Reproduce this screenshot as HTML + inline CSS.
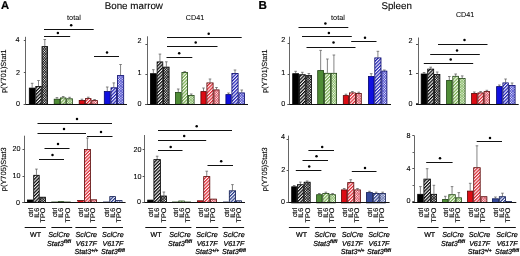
<!DOCTYPE html>
<html><head><meta charset="utf-8"><style>
html,body{margin:0;padding:0;background:#fff;width:520px;height:256px;overflow:hidden}
svg{display:block;text-rendering:geometricPrecision;filter:blur(.45px)}
text{stroke:#000;stroke-width:.22px}
</style></head><body><svg width="520" height="256" viewBox="0 0 520 256" font-family='"Liberation Sans", sans-serif' stroke-linecap="butt"><g fill="#000" stroke="none"><defs><pattern id="hk" patternUnits="userSpaceOnUse" width="2.35" height="3" patternTransform="rotate(45)"><rect width="2.35" height="3" fill="#fff"/><rect width="1.25" height="3" fill="#000"/></pattern><pattern id="ck" patternUnits="userSpaceOnUse" width="1.8" height="1.8" patternTransform="rotate(45)"><rect width="1.8" height="1.8" fill="#fff"/><rect width="1.8" height="0.68" fill="#000"/><rect width="0.68" height="1.8" fill="#000"/></pattern><pattern id="hg" patternUnits="userSpaceOnUse" width="2.35" height="3" patternTransform="rotate(45)"><rect width="2.35" height="3" fill="#fff"/><rect width="1.25" height="3" fill="#74ac4a"/></pattern><pattern id="cg" patternUnits="userSpaceOnUse" width="1.8" height="1.8" patternTransform="rotate(45)"><rect width="1.8" height="1.8" fill="#fff"/><rect width="1.8" height="0.68" fill="#7cb458"/><rect width="0.68" height="1.8" fill="#7cb458"/></pattern><pattern id="hr" patternUnits="userSpaceOnUse" width="2.35" height="3" patternTransform="rotate(45)"><rect width="2.35" height="3" fill="#fff"/><rect width="1.25" height="3" fill="#dc2430"/></pattern><pattern id="cr" patternUnits="userSpaceOnUse" width="1.8" height="1.8" patternTransform="rotate(45)"><rect width="1.8" height="1.8" fill="#fff"/><rect width="1.8" height="0.68" fill="#d84858"/><rect width="0.68" height="1.8" fill="#d84858"/></pattern><pattern id="hb" patternUnits="userSpaceOnUse" width="2.35" height="3" patternTransform="rotate(45)"><rect width="2.35" height="3" fill="#fff"/><rect width="1.25" height="3" fill="#1c1cb4"/></pattern><pattern id="cb" patternUnits="userSpaceOnUse" width="1.8" height="1.8" patternTransform="rotate(45)"><rect width="1.8" height="1.8" fill="#fff"/><rect width="1.8" height="0.68" fill="#3a3ac8"/><rect width="0.68" height="1.8" fill="#3a3ac8"/></pattern><pattern id="hn" patternUnits="userSpaceOnUse" width="2.35" height="3" patternTransform="rotate(45)"><rect width="2.35" height="3" fill="#fff"/><rect width="1.25" height="3" fill="#24388a"/></pattern><pattern id="cn" patternUnits="userSpaceOnUse" width="1.8" height="1.8" patternTransform="rotate(45)"><rect width="1.8" height="1.8" fill="#fff"/><rect width="1.8" height="0.68" fill="#5868aa"/><rect width="0.68" height="1.8" fill="#5868aa"/></pattern></defs><line x1="32.15" y1="87.7" x2="32.15" y2="83.3" stroke="#666" stroke-width="0.8"/><line x1="30.85" y1="83.3" x2="33.45" y2="83.3" stroke="#666" stroke-width="0.8"/><rect x="29.3" y="88.1" width="5.7" height="16.1" fill="#000" stroke="#000" stroke-width="0.8"/><line x1="38.5" y1="86.0" x2="38.5" y2="80.5" stroke="#666" stroke-width="0.8"/><line x1="37.2" y1="80.5" x2="39.8" y2="80.5" stroke="#666" stroke-width="0.8"/><rect x="35.8" y="86.4" width="5.4" height="17.8" fill="url(#hk)" stroke="#000" stroke-width="0.8"/><line x1="44.8" y1="46.2" x2="44.8" y2="39.5" stroke="#666" stroke-width="0.8"/><line x1="43.5" y1="39.5" x2="46.1" y2="39.5" stroke="#666" stroke-width="0.8"/><rect x="42.0" y="46.6" width="5.6" height="57.6" fill="url(#ck)" stroke="#000" stroke-width="0.8"/><line x1="56.95" y1="98.8" x2="56.95" y2="97.6" stroke="#666" stroke-width="0.8"/><line x1="55.65" y1="97.6" x2="58.25" y2="97.6" stroke="#666" stroke-width="0.8"/><rect x="54.2" y="99.2" width="5.5" height="5.0" fill="#4f8c36" stroke="#1e4212" stroke-width="0.8"/><line x1="63.2" y1="97.5" x2="63.2" y2="96.5" stroke="#666" stroke-width="0.8"/><line x1="61.9" y1="96.5" x2="64.5" y2="96.5" stroke="#666" stroke-width="0.8"/><rect x="60.5" y="97.9" width="5.4" height="6.3" fill="url(#hg)" stroke="#1e4212" stroke-width="0.8"/><line x1="69.55" y1="98.4" x2="69.55" y2="97.3" stroke="#666" stroke-width="0.8"/><line x1="68.25" y1="97.3" x2="70.85" y2="97.3" stroke="#666" stroke-width="0.8"/><rect x="66.7" y="98.8" width="5.7" height="5.4" fill="url(#cg)" stroke="#1e4212" stroke-width="0.8"/><line x1="81.95" y1="100.1" x2="81.95" y2="99.2" stroke="#666" stroke-width="0.8"/><line x1="80.65" y1="99.2" x2="83.25" y2="99.2" stroke="#666" stroke-width="0.8"/><rect x="79.2" y="100.5" width="5.5" height="3.7" fill="#dc0c14" stroke="#580404" stroke-width="0.8"/><line x1="88.25" y1="98.2" x2="88.25" y2="97.2" stroke="#666" stroke-width="0.8"/><line x1="86.95" y1="97.2" x2="89.55" y2="97.2" stroke="#666" stroke-width="0.8"/><rect x="85.5" y="98.6" width="5.5" height="5.6" fill="url(#hr)" stroke="#580404" stroke-width="0.8"/><line x1="94.6" y1="100.2" x2="94.6" y2="99.5" stroke="#666" stroke-width="0.8"/><line x1="93.3" y1="99.5" x2="95.9" y2="99.5" stroke="#666" stroke-width="0.8"/><rect x="91.8" y="100.6" width="5.6" height="3.6" fill="url(#cr)" stroke="#580404" stroke-width="0.8"/><line x1="107.25" y1="91.1" x2="107.25" y2="87.0" stroke="#666" stroke-width="0.8"/><line x1="105.95" y1="87.0" x2="108.55" y2="87.0" stroke="#666" stroke-width="0.8"/><rect x="104.3" y="91.5" width="5.9" height="12.7" fill="#1010e0" stroke="#06066a" stroke-width="0.8"/><line x1="113.8" y1="87.4" x2="113.8" y2="82.9" stroke="#666" stroke-width="0.8"/><line x1="112.5" y1="82.9" x2="115.1" y2="82.9" stroke="#666" stroke-width="0.8"/><rect x="111.0" y="87.8" width="5.6" height="16.4" fill="url(#hb)" stroke="#06066a" stroke-width="0.8"/><line x1="120.55" y1="75.2" x2="120.55" y2="64.5" stroke="#666" stroke-width="0.8"/><line x1="119.25" y1="64.5" x2="121.85" y2="64.5" stroke="#666" stroke-width="0.8"/><rect x="117.4" y="75.6" width="6.3" height="28.6" fill="url(#cb)" stroke="#06066a" stroke-width="0.8"/><line x1="25.5" y1="36.8" x2="25.5" y2="104.2" stroke="#666" stroke-width="1"/><line x1="23.8" y1="104.5" x2="127" y2="104.5" stroke="#111" stroke-width="1"/><line x1="23.8" y1="104.5" x2="25.8" y2="104.5" stroke="#555" stroke-width="1"/><text x="20" y="105.9" font-size="7.2" text-anchor="end" style="stroke-width:0.1px">0</text><line x1="23.8" y1="72.5" x2="25.8" y2="72.5" stroke="#555" stroke-width="1"/><text x="20" y="75.0" font-size="7.2" text-anchor="end" style="stroke-width:0.1px">2</text><line x1="23.8" y1="40.5" x2="25.8" y2="40.5" stroke="#555" stroke-width="1"/><text x="19.6" y="42.1" font-size="7.2" text-anchor="end" style="stroke-width:0.1px">4</text><line x1="44" y1="29.5" x2="93.7" y2="29.5" stroke="#111" stroke-width="1"/><circle cx="71.2" cy="25.2" r="1.25" fill="#000"/><line x1="44" y1="36.5" x2="70.2" y2="36.5" stroke="#111" stroke-width="1"/><circle cx="57.9" cy="32.9" r="1.25" fill="#000"/><line x1="94" y1="56.5" x2="119" y2="56.5" stroke="#111" stroke-width="1"/><circle cx="107" cy="52.6" r="1.25" fill="#000"/><line x1="153.35" y1="73.3" x2="153.35" y2="69.7" stroke="#666" stroke-width="0.8"/><line x1="152.05" y1="69.7" x2="154.65" y2="69.7" stroke="#666" stroke-width="0.8"/><rect x="150.4" y="73.7" width="5.9" height="30.6" fill="#000" stroke="#000" stroke-width="0.8"/><line x1="159.95" y1="61.5" x2="159.95" y2="54.1" stroke="#666" stroke-width="0.8"/><line x1="158.65" y1="54.1" x2="161.25" y2="54.1" stroke="#666" stroke-width="0.8"/><rect x="157.1" y="61.9" width="5.7" height="42.4" fill="url(#hk)" stroke="#000" stroke-width="0.8"/><line x1="166.35" y1="66.7" x2="166.35" y2="61.8" stroke="#666" stroke-width="0.8"/><line x1="165.05" y1="61.8" x2="167.65" y2="61.8" stroke="#666" stroke-width="0.8"/><rect x="163.6" y="67.1" width="5.5" height="37.2" fill="url(#ck)" stroke="#000" stroke-width="0.8"/><line x1="178.25" y1="92" x2="178.25" y2="89" stroke="#666" stroke-width="0.8"/><line x1="176.95" y1="89" x2="179.55" y2="89" stroke="#666" stroke-width="0.8"/><rect x="175.4" y="92.4" width="5.7" height="11.9" fill="#4f8c36" stroke="#1e4212" stroke-width="0.8"/><line x1="184.75" y1="72" x2="184.75" y2="71.6" stroke="#666" stroke-width="0.8"/><line x1="183.45" y1="71.6" x2="186.05" y2="71.6" stroke="#666" stroke-width="0.8"/><rect x="181.9" y="72.4" width="5.7" height="31.9" fill="url(#hg)" stroke="#1e4212" stroke-width="0.8"/><line x1="191.25" y1="95" x2="191.25" y2="94" stroke="#666" stroke-width="0.8"/><line x1="189.95" y1="94" x2="192.55" y2="94" stroke="#666" stroke-width="0.8"/><rect x="188.4" y="95.4" width="5.7" height="8.9" fill="url(#cg)" stroke="#1e4212" stroke-width="0.8"/><line x1="203.5" y1="91.2" x2="203.5" y2="88" stroke="#666" stroke-width="0.8"/><line x1="202.2" y1="88" x2="204.8" y2="88" stroke="#666" stroke-width="0.8"/><rect x="200.9" y="91.6" width="5.2" height="12.7" fill="#dc0c14" stroke="#580404" stroke-width="0.8"/><line x1="210.0" y1="82.5" x2="210.0" y2="79" stroke="#666" stroke-width="0.8"/><line x1="208.7" y1="79" x2="211.3" y2="79" stroke="#666" stroke-width="0.8"/><rect x="206.9" y="82.9" width="6.2" height="21.4" fill="url(#hr)" stroke="#580404" stroke-width="0.8"/><line x1="216.5" y1="89.5" x2="216.5" y2="87.5" stroke="#666" stroke-width="0.8"/><line x1="215.2" y1="87.5" x2="217.8" y2="87.5" stroke="#666" stroke-width="0.8"/><rect x="213.9" y="89.9" width="5.2" height="14.4" fill="url(#cr)" stroke="#580404" stroke-width="0.8"/><line x1="228.5" y1="94.2" x2="228.5" y2="93" stroke="#666" stroke-width="0.8"/><line x1="227.2" y1="93" x2="229.8" y2="93" stroke="#666" stroke-width="0.8"/><rect x="225.9" y="94.6" width="5.2" height="9.7" fill="#1010e0" stroke="#06066a" stroke-width="0.8"/><line x1="235.0" y1="73" x2="235.0" y2="70" stroke="#666" stroke-width="0.8"/><line x1="233.7" y1="70" x2="236.3" y2="70" stroke="#666" stroke-width="0.8"/><rect x="231.9" y="73.4" width="6.2" height="30.9" fill="url(#hb)" stroke="#06066a" stroke-width="0.8"/><line x1="241.75" y1="92.5" x2="241.75" y2="90" stroke="#666" stroke-width="0.8"/><line x1="240.45" y1="90" x2="243.05" y2="90" stroke="#666" stroke-width="0.8"/><rect x="238.9" y="92.9" width="5.7" height="11.4" fill="url(#cb)" stroke="#06066a" stroke-width="0.8"/><line x1="147.5" y1="36.3" x2="147.5" y2="104.3" stroke="#666" stroke-width="1"/><line x1="145.4" y1="104.5" x2="248" y2="104.5" stroke="#111" stroke-width="1"/><line x1="145.4" y1="104.5" x2="147.4" y2="104.5" stroke="#555" stroke-width="1"/><text x="141.5" y="106.1" font-size="7.2" text-anchor="end" style="stroke-width:0.1px">0</text><line x1="145.4" y1="74.5" x2="147.4" y2="74.5" stroke="#555" stroke-width="1"/><text x="141.5" y="74.6" font-size="7.2" text-anchor="end" style="stroke-width:0.1px">1</text><line x1="145.4" y1="44.5" x2="147.4" y2="44.5" stroke="#555" stroke-width="1"/><text x="141.5" y="42.7" font-size="7.2" text-anchor="end" style="stroke-width:0.1px">2</text><line x1="167" y1="37.5" x2="241.7" y2="37.5" stroke="#111" stroke-width="1"/><circle cx="208.7" cy="33.7" r="1.25" fill="#000"/><line x1="167" y1="46.5" x2="217.5" y2="46.5" stroke="#111" stroke-width="1"/><circle cx="195.7" cy="42.5" r="1.25" fill="#000"/><line x1="166.5" y1="57.5" x2="192.3" y2="57.5" stroke="#111" stroke-width="1"/><circle cx="179.2" cy="53.3" r="1.25" fill="#000"/><line x1="295.65" y1="73.3" x2="295.65" y2="71.3" stroke="#666" stroke-width="0.8"/><line x1="294.35" y1="71.3" x2="296.95" y2="71.3" stroke="#666" stroke-width="0.8"/><rect x="292.7" y="73.7" width="5.9" height="30.7" fill="#000" stroke="#000" stroke-width="0.8"/><line x1="302.35" y1="74.3" x2="302.35" y2="72.3" stroke="#666" stroke-width="0.8"/><line x1="301.05" y1="72.3" x2="303.65" y2="72.3" stroke="#666" stroke-width="0.8"/><rect x="299.4" y="74.7" width="5.9" height="29.7" fill="url(#hk)" stroke="#000" stroke-width="0.8"/><line x1="308.85" y1="75.2" x2="308.85" y2="73.5" stroke="#666" stroke-width="0.8"/><line x1="307.55" y1="73.5" x2="310.15" y2="73.5" stroke="#666" stroke-width="0.8"/><rect x="306.1" y="75.6" width="5.5" height="28.8" fill="url(#ck)" stroke="#000" stroke-width="0.8"/><line x1="320.65" y1="70.2" x2="320.65" y2="50.4" stroke="#666" stroke-width="0.8"/><line x1="319.35" y1="50.4" x2="321.95" y2="50.4" stroke="#666" stroke-width="0.8"/><rect x="317.7" y="70.6" width="5.9" height="33.8" fill="#4f8c36" stroke="#1e4212" stroke-width="0.8"/><line x1="327.4" y1="72.9" x2="327.4" y2="59.0" stroke="#666" stroke-width="0.8"/><line x1="326.1" y1="59.0" x2="328.7" y2="59.0" stroke="#666" stroke-width="0.8"/><rect x="324.4" y="73.3" width="6.0" height="31.1" fill="url(#hg)" stroke="#1e4212" stroke-width="0.8"/><line x1="333.9" y1="72.9" x2="333.9" y2="55.0" stroke="#666" stroke-width="0.8"/><line x1="332.6" y1="55.0" x2="335.2" y2="55.0" stroke="#666" stroke-width="0.8"/><rect x="331.2" y="73.3" width="5.4" height="31.1" fill="url(#cg)" stroke="#1e4212" stroke-width="0.8"/><line x1="345.95" y1="95.2" x2="345.95" y2="94.2" stroke="#666" stroke-width="0.8"/><line x1="344.65" y1="94.2" x2="347.25" y2="94.2" stroke="#666" stroke-width="0.8"/><rect x="343.3" y="95.6" width="5.3" height="8.8" fill="#dc0c14" stroke="#580404" stroke-width="0.8"/><line x1="352.4" y1="92.5" x2="352.4" y2="91.5" stroke="#666" stroke-width="0.8"/><line x1="351.1" y1="91.5" x2="353.7" y2="91.5" stroke="#666" stroke-width="0.8"/><rect x="349.4" y="92.9" width="6.0" height="11.5" fill="url(#hr)" stroke="#580404" stroke-width="0.8"/><line x1="358.75" y1="93.1" x2="358.75" y2="92.2" stroke="#666" stroke-width="0.8"/><line x1="357.45" y1="92.2" x2="360.05" y2="92.2" stroke="#666" stroke-width="0.8"/><rect x="356.2" y="93.5" width="5.1" height="10.9" fill="url(#cr)" stroke="#580404" stroke-width="0.8"/><line x1="371.2" y1="76.1" x2="371.2" y2="73.7" stroke="#666" stroke-width="0.8"/><line x1="369.9" y1="73.7" x2="372.5" y2="73.7" stroke="#666" stroke-width="0.8"/><rect x="368.4" y="76.5" width="5.6" height="27.9" fill="#1010e0" stroke="#06066a" stroke-width="0.8"/><line x1="377.9" y1="57.5" x2="377.9" y2="51.3" stroke="#666" stroke-width="0.8"/><line x1="376.6" y1="51.3" x2="379.2" y2="51.3" stroke="#666" stroke-width="0.8"/><rect x="374.8" y="57.9" width="6.2" height="46.5" fill="url(#hb)" stroke="#06066a" stroke-width="0.8"/><line x1="384.35" y1="70.7" x2="384.35" y2="70" stroke="#666" stroke-width="0.8"/><line x1="383.05" y1="70" x2="385.65" y2="70" stroke="#666" stroke-width="0.8"/><rect x="381.8" y="71.1" width="5.1" height="33.3" fill="url(#cb)" stroke="#06066a" stroke-width="0.8"/><line x1="289.5" y1="36.7" x2="289.5" y2="104.4" stroke="#666" stroke-width="1"/><line x1="287.6" y1="104.5" x2="391" y2="104.5" stroke="#111" stroke-width="1"/><line x1="287.6" y1="104.5" x2="289.6" y2="104.5" stroke="#555" stroke-width="1"/><text x="285.2" y="105.5" font-size="7.2" text-anchor="end" style="stroke-width:0.1px">0</text><line x1="287.6" y1="74.5" x2="289.6" y2="74.5" stroke="#555" stroke-width="1"/><text x="285.2" y="74.7" font-size="7.2" text-anchor="end" style="stroke-width:0.1px">1</text><line x1="287.6" y1="43.5" x2="289.6" y2="43.5" stroke="#555" stroke-width="1"/><text x="285.2" y="41.6" font-size="7.2" text-anchor="end" style="stroke-width:0.1px">2</text><line x1="298.5" y1="27.5" x2="348.3" y2="27.5" stroke="#111" stroke-width="1"/><circle cx="325.4" cy="23.4" r="1.25" fill="#000"/><line x1="302" y1="36.5" x2="351.8" y2="36.5" stroke="#111" stroke-width="1"/><circle cx="328.9" cy="33.1" r="1.25" fill="#000"/><line x1="306.5" y1="47.5" x2="355.5" y2="47.5" stroke="#111" stroke-width="1"/><circle cx="333.5" cy="42.5" r="1.25" fill="#000"/><line x1="351.2" y1="41.5" x2="376.5" y2="41.5" stroke="#111" stroke-width="1"/><circle cx="365" cy="37.7" r="1.25" fill="#000"/><line x1="424.05" y1="73.6" x2="424.05" y2="72.5" stroke="#666" stroke-width="0.8"/><line x1="422.75" y1="72.5" x2="425.35" y2="72.5" stroke="#666" stroke-width="0.8"/><rect x="421.2" y="74.0" width="5.7" height="30.2" fill="#000" stroke="#000" stroke-width="0.8"/><line x1="430.7" y1="68.7" x2="430.7" y2="67.2" stroke="#666" stroke-width="0.8"/><line x1="429.4" y1="67.2" x2="432.0" y2="67.2" stroke="#666" stroke-width="0.8"/><rect x="427.7" y="69.1" width="6.0" height="35.1" fill="url(#hk)" stroke="#000" stroke-width="0.8"/><line x1="437.2" y1="74.0" x2="437.2" y2="72.0" stroke="#666" stroke-width="0.8"/><line x1="435.9" y1="72.0" x2="438.5" y2="72.0" stroke="#666" stroke-width="0.8"/><rect x="434.5" y="74.4" width="5.4" height="29.8" fill="url(#ck)" stroke="#000" stroke-width="0.8"/><line x1="449.3" y1="80.0" x2="449.3" y2="76.5" stroke="#666" stroke-width="0.8"/><line x1="448.0" y1="76.5" x2="450.6" y2="76.5" stroke="#666" stroke-width="0.8"/><rect x="446.6" y="80.4" width="5.4" height="23.8" fill="#4f8c36" stroke="#1e4212" stroke-width="0.8"/><line x1="455.65" y1="75.9" x2="455.65" y2="74.0" stroke="#666" stroke-width="0.8"/><line x1="454.35" y1="74.0" x2="456.95" y2="74.0" stroke="#666" stroke-width="0.8"/><rect x="452.8" y="76.3" width="5.7" height="27.9" fill="url(#hg)" stroke="#1e4212" stroke-width="0.8"/><line x1="462.2" y1="78.0" x2="462.2" y2="75.9" stroke="#666" stroke-width="0.8"/><line x1="460.9" y1="75.9" x2="463.5" y2="75.9" stroke="#666" stroke-width="0.8"/><rect x="459.3" y="78.4" width="5.8" height="25.8" fill="url(#cg)" stroke="#1e4212" stroke-width="0.8"/><line x1="474.35" y1="93" x2="474.35" y2="92" stroke="#666" stroke-width="0.8"/><line x1="473.05" y1="92" x2="475.65" y2="92" stroke="#666" stroke-width="0.8"/><rect x="471.6" y="93.4" width="5.5" height="10.8" fill="#dc0c14" stroke="#580404" stroke-width="0.8"/><line x1="480.6" y1="92.5" x2="480.6" y2="91.5" stroke="#666" stroke-width="0.8"/><line x1="479.3" y1="91.5" x2="481.9" y2="91.5" stroke="#666" stroke-width="0.8"/><rect x="477.9" y="92.9" width="5.4" height="11.3" fill="url(#hr)" stroke="#580404" stroke-width="0.8"/><line x1="486.85" y1="91.2" x2="486.85" y2="90.3" stroke="#666" stroke-width="0.8"/><line x1="485.55" y1="90.3" x2="488.15" y2="90.3" stroke="#666" stroke-width="0.8"/><rect x="484.1" y="91.6" width="5.5" height="12.6" fill="url(#cr)" stroke="#580404" stroke-width="0.8"/><line x1="499.35" y1="86.2" x2="499.35" y2="85" stroke="#666" stroke-width="0.8"/><line x1="498.05" y1="85" x2="500.65" y2="85" stroke="#666" stroke-width="0.8"/><rect x="496.6" y="86.6" width="5.5" height="17.6" fill="#1010e0" stroke="#06066a" stroke-width="0.8"/><line x1="505.6" y1="82.5" x2="505.6" y2="79" stroke="#666" stroke-width="0.8"/><line x1="504.3" y1="79" x2="506.9" y2="79" stroke="#666" stroke-width="0.8"/><rect x="502.9" y="82.9" width="5.4" height="21.3" fill="url(#hb)" stroke="#06066a" stroke-width="0.8"/><line x1="512.1" y1="85" x2="512.1" y2="83" stroke="#666" stroke-width="0.8"/><line x1="510.8" y1="83" x2="513.4" y2="83" stroke="#666" stroke-width="0.8"/><rect x="509.1" y="85.4" width="6.0" height="18.8" fill="url(#cb)" stroke="#06066a" stroke-width="0.8"/><line x1="418.5" y1="37.5" x2="418.5" y2="104.2" stroke="#666" stroke-width="1"/><line x1="416" y1="104.5" x2="518.7" y2="104.5" stroke="#111" stroke-width="1"/><line x1="416" y1="103.5" x2="418" y2="103.5" stroke="#555" stroke-width="1"/><text x="412.4" y="105.6" font-size="7.2" text-anchor="end" style="stroke-width:0.1px">0</text><line x1="416" y1="73.5" x2="418" y2="73.5" stroke="#555" stroke-width="1"/><text x="412.4" y="75.0" font-size="7.2" text-anchor="end" style="stroke-width:0.1px">1</text><line x1="416" y1="44.5" x2="418" y2="44.5" stroke="#555" stroke-width="1"/><text x="412.4" y="42.7" font-size="7.2" text-anchor="end" style="stroke-width:0.1px">2</text><line x1="438" y1="44.5" x2="487.5" y2="44.5" stroke="#111" stroke-width="1"/><circle cx="464.5" cy="40" r="1.25" fill="#000"/><line x1="430.2" y1="54.5" x2="479.8" y2="54.5" stroke="#111" stroke-width="1"/><circle cx="457" cy="50.5" r="1.25" fill="#000"/><line x1="423.8" y1="63.5" x2="473.2" y2="63.5" stroke="#111" stroke-width="1"/><circle cx="450.7" cy="59.4" r="1.25" fill="#000"/><rect x="27.4" y="200.0" width="5.5" height="2.4" fill="#000" stroke="#000" stroke-width="0.8"/><line x1="36.45" y1="174.9" x2="36.45" y2="169.1" stroke="#666" stroke-width="0.8"/><line x1="35.15" y1="169.1" x2="37.75" y2="169.1" stroke="#666" stroke-width="0.8"/><rect x="33.7" y="175.3" width="5.5" height="27.1" fill="url(#hk)" stroke="#000" stroke-width="0.8"/><rect x="40.0" y="197.2" width="5.5" height="5.2" fill="url(#ck)" stroke="#000" stroke-width="0.8"/><rect x="51.7" y="202.0" width="5.7" height="0.4" fill="#4f8c36" stroke="#1e4212" stroke-width="0.8"/><rect x="58.2" y="201.6" width="5.6" height="0.8" fill="url(#hg)" stroke="#1e4212" stroke-width="0.8"/><rect x="64.6" y="202.0" width="5.7" height="0.4" fill="url(#cg)" stroke="#1e4212" stroke-width="0.8"/><rect x="77.5" y="200.6" width="6.1" height="1.8" fill="#dc0c14" stroke="#580404" stroke-width="0.8"/><line x1="87.4" y1="149" x2="87.4" y2="138" stroke="#666" stroke-width="0.8"/><line x1="86.1" y1="138" x2="88.7" y2="138" stroke="#666" stroke-width="0.8"/><rect x="84.4" y="149.4" width="6.0" height="53.0" fill="url(#hr)" stroke="#580404" stroke-width="0.8"/><rect x="91.2" y="199.8" width="5.4" height="2.6" fill="url(#cr)" stroke="#580404" stroke-width="0.8"/><rect x="103.4" y="202.0" width="5.6" height="0.4" fill="#34489a" stroke="#0e1a50" stroke-width="0.8"/><rect x="109.8" y="196.6" width="5.7" height="5.8" fill="url(#hn)" stroke="#0e1a50" stroke-width="0.8"/><rect x="116.3" y="200.6" width="5.7" height="1.8" fill="url(#cn)" stroke="#0e1a50" stroke-width="0.8"/><line x1="24.5" y1="135.7" x2="24.5" y2="202.4" stroke="#666" stroke-width="1"/><line x1="22.5" y1="202.5" x2="125.6" y2="202.5" stroke="#111" stroke-width="1"/><line x1="22.5" y1="202.5" x2="24.5" y2="202.5" stroke="#555" stroke-width="1"/><text x="20" y="204.5" font-size="7.2" text-anchor="end" style="stroke-width:0.1px">0</text><line x1="22.5" y1="176.5" x2="24.5" y2="176.5" stroke="#555" stroke-width="1"/><text x="20.5" y="178.1" font-size="7.2" text-anchor="end" style="stroke-width:0.1px">10</text><line x1="22.5" y1="149.5" x2="24.5" y2="149.5" stroke="#555" stroke-width="1"/><text x="20.5" y="151.2" font-size="7.2" text-anchor="end" style="stroke-width:0.1px">20</text><line x1="37.5" y1="123.5" x2="112" y2="123.5" stroke="#111" stroke-width="1"/><circle cx="77" cy="119" r="1.25" fill="#000"/><line x1="37.5" y1="133.5" x2="86" y2="133.5" stroke="#111" stroke-width="1"/><circle cx="64" cy="129" r="1.25" fill="#000"/><line x1="87" y1="136.5" x2="112.5" y2="136.5" stroke="#111" stroke-width="1"/><circle cx="101" cy="132" r="1.25" fill="#000"/><line x1="44.5" y1="148.5" x2="69.5" y2="148.5" stroke="#111" stroke-width="1"/><circle cx="58" cy="144" r="1.25" fill="#000"/><line x1="39" y1="159.5" x2="64" y2="159.5" stroke="#111" stroke-width="1"/><circle cx="52.5" cy="155" r="1.25" fill="#000"/><rect x="147.7" y="200.1" width="5.4" height="2.3" fill="#000" stroke="#000" stroke-width="0.8"/><line x1="157.15" y1="159.2" x2="157.15" y2="156.2" stroke="#666" stroke-width="0.8"/><line x1="155.85" y1="156.2" x2="158.45" y2="156.2" stroke="#666" stroke-width="0.8"/><rect x="153.9" y="159.6" width="6.5" height="42.8" fill="url(#hk)" stroke="#000" stroke-width="0.8"/><line x1="163.9" y1="195.6" x2="163.9" y2="192" stroke="#666" stroke-width="0.8"/><line x1="162.6" y1="192" x2="165.2" y2="192" stroke="#666" stroke-width="0.8"/><rect x="161.2" y="196.0" width="5.4" height="6.4" fill="url(#ck)" stroke="#000" stroke-width="0.8"/><rect x="172.4" y="202.0" width="5.6" height="0.4" fill="#4f8c36" stroke="#1e4212" stroke-width="0.8"/><rect x="178.8" y="201.0" width="5.5" height="1.4" fill="url(#hg)" stroke="#1e4212" stroke-width="0.8"/><rect x="185.1" y="202.0" width="5.5" height="0.4" fill="url(#cg)" stroke="#1e4212" stroke-width="0.8"/><rect x="197.5" y="200.8" width="5.4" height="1.6" fill="#dc0c14" stroke="#580404" stroke-width="0.8"/><line x1="206.75" y1="176.2" x2="206.75" y2="171.2" stroke="#666" stroke-width="0.8"/><line x1="205.45" y1="171.2" x2="208.05" y2="171.2" stroke="#666" stroke-width="0.8"/><rect x="203.7" y="176.6" width="6.1" height="25.8" fill="url(#hr)" stroke="#580404" stroke-width="0.8"/><rect x="210.6" y="199.1" width="5.8" height="3.3" fill="url(#cr)" stroke="#580404" stroke-width="0.8"/><rect x="223.5" y="202.0" width="5.0" height="0.4" fill="#34489a" stroke="#0e1a50" stroke-width="0.8"/><line x1="232.45" y1="190.4" x2="232.45" y2="184.6" stroke="#666" stroke-width="0.8"/><line x1="231.15" y1="184.6" x2="233.75" y2="184.6" stroke="#666" stroke-width="0.8"/><rect x="229.3" y="190.8" width="6.3" height="11.6" fill="url(#hn)" stroke="#0e1a50" stroke-width="0.8"/><rect x="236.4" y="200.8" width="5.0" height="1.6" fill="url(#cn)" stroke="#0e1a50" stroke-width="0.8"/><line x1="144.5" y1="135" x2="144.5" y2="202.4" stroke="#666" stroke-width="1"/><line x1="142.6" y1="202.5" x2="245" y2="202.5" stroke="#111" stroke-width="1"/><line x1="142.6" y1="202.5" x2="144.6" y2="202.5" stroke="#555" stroke-width="1"/><text x="141" y="204.4" font-size="7.2" text-anchor="end" style="stroke-width:0.1px">0</text><line x1="142.6" y1="176.5" x2="144.6" y2="176.5" stroke="#555" stroke-width="1"/><text x="141.5" y="178.6" font-size="7.2" text-anchor="end" style="stroke-width:0.1px">10</text><line x1="142.6" y1="149.5" x2="144.6" y2="149.5" stroke="#555" stroke-width="1"/><text x="141.5" y="151.8" font-size="7.2" text-anchor="end" style="stroke-width:0.1px">20</text><line x1="158" y1="130.5" x2="232" y2="130.5" stroke="#111" stroke-width="1"/><circle cx="196.7" cy="126.2" r="1.25" fill="#000"/><line x1="158" y1="140.5" x2="206.2" y2="140.5" stroke="#111" stroke-width="1"/><circle cx="184.2" cy="136" r="1.25" fill="#000"/><line x1="158" y1="150.5" x2="182.5" y2="150.5" stroke="#111" stroke-width="1"/><circle cx="170.7" cy="147" r="1.25" fill="#000"/><line x1="207.5" y1="165.5" x2="233" y2="165.5" stroke="#111" stroke-width="1"/><circle cx="221.2" cy="161.2" r="1.25" fill="#000"/><line x1="294.2" y1="186.4" x2="294.2" y2="185.5" stroke="#666" stroke-width="0.8"/><line x1="292.9" y1="185.5" x2="295.5" y2="185.5" stroke="#666" stroke-width="0.8"/><rect x="291.7" y="186.8" width="5.0" height="16.1" fill="#000" stroke="#000" stroke-width="0.8"/><line x1="300.4" y1="184.3" x2="300.4" y2="182.1" stroke="#666" stroke-width="0.8"/><line x1="299.1" y1="182.1" x2="301.7" y2="182.1" stroke="#666" stroke-width="0.8"/><rect x="297.5" y="184.7" width="5.8" height="18.2" fill="url(#hk)" stroke="#000" stroke-width="0.8"/><line x1="307.15" y1="181.8" x2="307.15" y2="181.0" stroke="#666" stroke-width="0.8"/><line x1="305.85" y1="181.0" x2="308.45" y2="181.0" stroke="#666" stroke-width="0.8"/><rect x="304.1" y="182.2" width="6.1" height="20.7" fill="url(#ck)" stroke="#000" stroke-width="0.8"/><line x1="319.3" y1="194.3" x2="319.3" y2="193.5" stroke="#666" stroke-width="0.8"/><line x1="318.0" y1="193.5" x2="320.6" y2="193.5" stroke="#666" stroke-width="0.8"/><rect x="316.6" y="194.7" width="5.4" height="8.2" fill="#4f8c36" stroke="#1e4212" stroke-width="0.8"/><line x1="325.85" y1="193" x2="325.85" y2="192.2" stroke="#666" stroke-width="0.8"/><line x1="324.55" y1="192.2" x2="327.15" y2="192.2" stroke="#666" stroke-width="0.8"/><rect x="322.8" y="193.4" width="6.1" height="9.5" fill="url(#hg)" stroke="#1e4212" stroke-width="0.8"/><line x1="332.6" y1="194.3" x2="332.6" y2="193.5" stroke="#666" stroke-width="0.8"/><line x1="331.3" y1="193.5" x2="333.9" y2="193.5" stroke="#666" stroke-width="0.8"/><rect x="329.7" y="194.7" width="5.8" height="8.2" fill="url(#cg)" stroke="#1e4212" stroke-width="0.8"/><line x1="344.2" y1="189.5" x2="344.2" y2="188.5" stroke="#666" stroke-width="0.8"/><line x1="342.9" y1="188.5" x2="345.5" y2="188.5" stroke="#666" stroke-width="0.8"/><rect x="341.5" y="189.9" width="5.4" height="13.0" fill="#dc0c14" stroke="#580404" stroke-width="0.8"/><line x1="350.75" y1="182.2" x2="350.75" y2="179.7" stroke="#666" stroke-width="0.8"/><line x1="349.45" y1="179.7" x2="352.05" y2="179.7" stroke="#666" stroke-width="0.8"/><rect x="347.7" y="182.6" width="6.1" height="20.3" fill="url(#hr)" stroke="#580404" stroke-width="0.8"/><line x1="357.5" y1="189.5" x2="357.5" y2="188.5" stroke="#666" stroke-width="0.8"/><line x1="356.2" y1="188.5" x2="358.8" y2="188.5" stroke="#666" stroke-width="0.8"/><rect x="354.6" y="189.9" width="5.8" height="13.0" fill="url(#cr)" stroke="#580404" stroke-width="0.8"/><line x1="369.45" y1="192.2" x2="369.45" y2="191.3" stroke="#666" stroke-width="0.8"/><line x1="368.15" y1="191.3" x2="370.75" y2="191.3" stroke="#666" stroke-width="0.8"/><rect x="366.4" y="192.6" width="6.1" height="10.3" fill="#34489a" stroke="#0e1a50" stroke-width="0.8"/><line x1="376.2" y1="193" x2="376.2" y2="192.2" stroke="#666" stroke-width="0.8"/><line x1="374.9" y1="192.2" x2="377.5" y2="192.2" stroke="#666" stroke-width="0.8"/><rect x="373.3" y="193.4" width="5.8" height="9.5" fill="url(#hn)" stroke="#0e1a50" stroke-width="0.8"/><line x1="382.65" y1="193" x2="382.65" y2="192.2" stroke="#666" stroke-width="0.8"/><line x1="381.35" y1="192.2" x2="383.95" y2="192.2" stroke="#666" stroke-width="0.8"/><rect x="379.9" y="193.4" width="5.5" height="9.5" fill="url(#cn)" stroke="#0e1a50" stroke-width="0.8"/><line x1="288.5" y1="135.6" x2="288.5" y2="202.9" stroke="#666" stroke-width="1"/><line x1="286.6" y1="202.5" x2="389.6" y2="202.5" stroke="#111" stroke-width="1"/><line x1="286.6" y1="202.5" x2="288.6" y2="202.5" stroke="#555" stroke-width="1"/><text x="285" y="204.4" font-size="7.2" text-anchor="end" style="stroke-width:0.1px">0</text><line x1="286.6" y1="170.5" x2="288.6" y2="170.5" stroke="#555" stroke-width="1"/><text x="285.3" y="171.9" font-size="7.2" text-anchor="end" style="stroke-width:0.1px">2</text><line x1="286.6" y1="139.5" x2="288.6" y2="139.5" stroke="#555" stroke-width="1"/><text x="285" y="138.7" font-size="7.2" text-anchor="end" style="stroke-width:0.1px">4</text><line x1="308.4" y1="150.5" x2="334" y2="150.5" stroke="#111" stroke-width="1"/><circle cx="322.2" cy="146.9" r="1.25" fill="#000"/><line x1="302.5" y1="160.5" x2="328" y2="160.5" stroke="#111" stroke-width="1"/><circle cx="316.5" cy="156.3" r="1.25" fill="#000"/><line x1="295.8" y1="170.5" x2="321.4" y2="170.5" stroke="#111" stroke-width="1"/><circle cx="309.2" cy="166.5" r="1.25" fill="#000"/><line x1="351.8" y1="171.5" x2="376.5" y2="171.5" stroke="#111" stroke-width="1"/><circle cx="365" cy="167.9" r="1.25" fill="#000"/><line x1="420.4" y1="193.9" x2="420.4" y2="186.6" stroke="#666" stroke-width="0.8"/><line x1="419.1" y1="186.6" x2="421.7" y2="186.6" stroke="#666" stroke-width="0.8"/><rect x="417.7" y="194.3" width="5.4" height="8.3" fill="#000" stroke="#000" stroke-width="0.8"/><line x1="427.15" y1="178.7" x2="427.15" y2="168.7" stroke="#666" stroke-width="0.8"/><line x1="425.85" y1="168.7" x2="428.45" y2="168.7" stroke="#666" stroke-width="0.8"/><rect x="423.9" y="179.1" width="6.5" height="23.5" fill="url(#hk)" stroke="#000" stroke-width="0.8"/><line x1="433.9" y1="193.9" x2="433.9" y2="185.3" stroke="#666" stroke-width="0.8"/><line x1="432.6" y1="185.3" x2="435.2" y2="185.3" stroke="#666" stroke-width="0.8"/><rect x="431.2" y="194.3" width="5.4" height="8.3" fill="url(#ck)" stroke="#000" stroke-width="0.8"/><line x1="445.3" y1="199" x2="445.3" y2="196.3" stroke="#666" stroke-width="0.8"/><line x1="444.0" y1="196.3" x2="446.6" y2="196.3" stroke="#666" stroke-width="0.8"/><rect x="442.6" y="199.4" width="5.4" height="3.2" fill="#4f8c36" stroke="#1e4212" stroke-width="0.8"/><line x1="452.05" y1="194.3" x2="452.05" y2="186.6" stroke="#666" stroke-width="0.8"/><line x1="450.75" y1="186.6" x2="453.35" y2="186.6" stroke="#666" stroke-width="0.8"/><rect x="448.8" y="194.7" width="6.5" height="7.9" fill="url(#hg)" stroke="#1e4212" stroke-width="0.8"/><line x1="458.8" y1="197.4" x2="458.8" y2="192.6" stroke="#666" stroke-width="0.8"/><line x1="457.5" y1="192.6" x2="460.1" y2="192.6" stroke="#666" stroke-width="0.8"/><rect x="456.1" y="197.8" width="5.4" height="4.8" fill="url(#cg)" stroke="#1e4212" stroke-width="0.8"/><line x1="470.2" y1="190.7" x2="470.2" y2="183.3" stroke="#666" stroke-width="0.8"/><line x1="468.9" y1="183.3" x2="471.5" y2="183.3" stroke="#666" stroke-width="0.8"/><rect x="467.5" y="191.1" width="5.4" height="11.5" fill="#dc0c14" stroke="#580404" stroke-width="0.8"/><line x1="476.95" y1="167.3" x2="476.95" y2="145.8" stroke="#666" stroke-width="0.8"/><line x1="475.65" y1="145.8" x2="478.25" y2="145.8" stroke="#666" stroke-width="0.8"/><rect x="473.7" y="167.7" width="6.5" height="34.9" fill="url(#hr)" stroke="#580404" stroke-width="0.8"/><rect x="481.0" y="196.7" width="5.9" height="5.9" fill="url(#cr)" stroke="#580404" stroke-width="0.8"/><line x1="495.45" y1="198.4" x2="495.45" y2="197" stroke="#666" stroke-width="0.8"/><line x1="494.15" y1="197" x2="496.75" y2="197" stroke="#666" stroke-width="0.8"/><rect x="492.4" y="198.8" width="6.1" height="3.8" fill="#34489a" stroke="#0e1a50" stroke-width="0.8"/><line x1="502.45" y1="196.3" x2="502.45" y2="193.2" stroke="#666" stroke-width="0.8"/><line x1="501.15" y1="193.2" x2="503.75" y2="193.2" stroke="#666" stroke-width="0.8"/><rect x="499.3" y="196.7" width="6.3" height="5.9" fill="url(#hn)" stroke="#0e1a50" stroke-width="0.8"/><rect x="506.4" y="201.5" width="5.0" height="1.1" fill="url(#cn)" stroke="#0e1a50" stroke-width="0.8"/><line x1="414.5" y1="135.5" x2="414.5" y2="202.6" stroke="#666" stroke-width="1"/><line x1="412.3" y1="202.5" x2="516.3" y2="202.5" stroke="#111" stroke-width="1"/><line x1="412.5" y1="152.5" x2="414.3" y2="152.5" stroke="#666" stroke-width="1"/><line x1="412.5" y1="185.5" x2="414.3" y2="185.5" stroke="#666" stroke-width="1"/><line x1="412.3" y1="201.5" x2="414.3" y2="201.5" stroke="#555" stroke-width="1"/><text x="410.6" y="203.4" font-size="7.2" text-anchor="end" style="stroke-width:0.1px">0</text><line x1="412.3" y1="168.5" x2="414.3" y2="168.5" stroke="#555" stroke-width="1"/><text x="410.6" y="171.2" font-size="7.2" text-anchor="end" style="stroke-width:0.1px">4</text><line x1="412.3" y1="135.5" x2="414.3" y2="135.5" stroke="#555" stroke-width="1"/><text x="410.6" y="138.2" font-size="7.2" text-anchor="end" style="stroke-width:0.1px">8</text><line x1="476.7" y1="141.5" x2="502" y2="141.5" stroke="#111" stroke-width="1"/><circle cx="490" cy="138" r="1.25" fill="#000"/><line x1="426.2" y1="162.5" x2="452.6" y2="162.5" stroke="#111" stroke-width="1"/><circle cx="440" cy="158.2" r="1.25" fill="#000"/><text x="1" y="9.1" font-size="11.2" font-weight="bold">A</text><text x="258.5" y="9.3" font-size="11.6" font-weight="bold">B</text><text x="104.7" y="9.3" font-size="9.8" style="stroke-width:0.1px">Bone marrow</text><text x="381.4" y="9.1" font-size="9.8" style="stroke-width:0.1px">Spleen</text><text x="74" y="19.8" font-size="7.3" text-anchor="middle" style="stroke-width:0.05px">total</text><text x="195" y="19.9" font-size="7.2" text-anchor="middle" style="stroke-width:0.05px">CD41</text><text x="338" y="19.9" font-size="7.3" text-anchor="middle" style="stroke-width:0.05px">total</text><text x="465.1" y="16.6" font-size="7.2" text-anchor="middle" style="stroke-width:0.05px">CD41</text><text x="6.2" y="71.2" font-size="7.45" text-anchor="middle" style="stroke-width:0.1px" transform="rotate(-90 6.2 71.2)">p(Y701)Stat1</text><text x="6.2" y="169.3" font-size="7.45" text-anchor="middle" style="stroke-width:0.1px" transform="rotate(-90 6.2 169.3)">p(Y705)Stat3</text><text x="267.2" y="71.2" font-size="7.45" text-anchor="middle" style="stroke-width:0.1px" transform="rotate(-90 267.2 71.2)">p(Y701)Stat1</text><text x="267.2" y="169.3" font-size="7.45" text-anchor="middle" style="stroke-width:0.1px" transform="rotate(-90 267.2 169.3)">p(Y705)Stat3</text><text transform="translate(32.7 207.7) rotate(-90) scale(1.06,1)" font-size="6.75" text-anchor="end" style="stroke-width:0.15px">ctrl</text><text transform="translate(38.6 207.7) rotate(-90) scale(1.06,1)" font-size="6.75" text-anchor="end" style="stroke-width:0.15px">IL6</text><text transform="translate(45.2 207.7) rotate(-90) scale(1.06,1)" font-size="6.75" text-anchor="end" style="stroke-width:0.15px">TPO</text><text transform="translate(57.0 207.7) rotate(-90) scale(1.06,1)" font-size="6.75" text-anchor="end" style="stroke-width:0.15px">ctrl</text><text transform="translate(62.9 207.7) rotate(-90) scale(1.06,1)" font-size="6.75" text-anchor="end" style="stroke-width:0.15px">IL6</text><text transform="translate(69.5 207.7) rotate(-90) scale(1.06,1)" font-size="6.75" text-anchor="end" style="stroke-width:0.15px">TPO</text><text transform="translate(82.8 207.7) rotate(-90) scale(1.06,1)" font-size="6.75" text-anchor="end" style="stroke-width:0.15px">ctrl</text><text transform="translate(88.7 207.7) rotate(-90) scale(1.06,1)" font-size="6.75" text-anchor="end" style="stroke-width:0.15px">IL6</text><text transform="translate(95.3 207.7) rotate(-90) scale(1.06,1)" font-size="6.75" text-anchor="end" style="stroke-width:0.15px">TPO</text><text transform="translate(108.7 207.7) rotate(-90) scale(1.06,1)" font-size="6.75" text-anchor="end" style="stroke-width:0.15px">ctrl</text><text transform="translate(114.6 207.7) rotate(-90) scale(1.06,1)" font-size="6.75" text-anchor="end" style="stroke-width:0.15px">IL6</text><text transform="translate(121.2 207.7) rotate(-90) scale(1.06,1)" font-size="6.75" text-anchor="end" style="stroke-width:0.15px">TPO</text><line x1="24.7" y1="227.5" x2="45.8" y2="227.5" stroke="#111" stroke-width="1"/><text x="35.5" y="237.4" font-size="7.1" text-anchor="middle">WT</text><line x1="51.4" y1="227.5" x2="72.2" y2="227.5" stroke="#111" stroke-width="1"/><text x="59.0" y="237.4" font-size="7.2" text-anchor="middle" font-style="italic">SclCre</text><text x="59.0" y="245.7" font-size="7.2" text-anchor="middle" font-style="italic">Stat3<tspan font-size="4.8" dy="-2.5" font-weight="bold">fl/fl</tspan></text><line x1="75.4" y1="227.5" x2="96.6" y2="227.5" stroke="#111" stroke-width="1"/><text x="86.3" y="237.4" font-size="7.2" text-anchor="middle" font-style="italic">SclCre</text><text x="86.3" y="245.7" font-size="7.1" text-anchor="middle" font-style="italic">V617F</text><text x="86.3" y="254" font-size="7.2" text-anchor="middle" font-style="italic">Stat3<tspan font-size="4.8" dy="-2.5" font-weight="bold">+/+</tspan></text><line x1="102.1" y1="227.5" x2="123" y2="227.5" stroke="#111" stroke-width="1"/><text x="112.9" y="237.4" font-size="7.2" text-anchor="middle" font-style="italic">SclCre</text><text x="112.9" y="245.7" font-size="7.1" text-anchor="middle" font-style="italic">V617F</text><text x="112.9" y="254" font-size="7.2" text-anchor="middle" font-style="italic">Stat3<tspan font-size="4.8" dy="-2.5" font-weight="bold">fl/fl</tspan></text><text transform="translate(153.0 207.7) rotate(-90) scale(1.06,1)" font-size="6.75" text-anchor="end" style="stroke-width:0.15px">ctrl</text><text transform="translate(158.9 207.7) rotate(-90) scale(1.06,1)" font-size="6.75" text-anchor="end" style="stroke-width:0.15px">IL6</text><text transform="translate(165.5 207.7) rotate(-90) scale(1.06,1)" font-size="6.75" text-anchor="end" style="stroke-width:0.15px">TPO</text><text transform="translate(177.7 207.7) rotate(-90) scale(1.06,1)" font-size="6.75" text-anchor="end" style="stroke-width:0.15px">ctrl</text><text transform="translate(183.6 207.7) rotate(-90) scale(1.06,1)" font-size="6.75" text-anchor="end" style="stroke-width:0.15px">IL6</text><text transform="translate(190.2 207.7) rotate(-90) scale(1.06,1)" font-size="6.75" text-anchor="end" style="stroke-width:0.15px">TPO</text><text transform="translate(202.8 207.7) rotate(-90) scale(1.06,1)" font-size="6.75" text-anchor="end" style="stroke-width:0.15px">ctrl</text><text transform="translate(208.7 207.7) rotate(-90) scale(1.06,1)" font-size="6.75" text-anchor="end" style="stroke-width:0.15px">IL6</text><text transform="translate(215.3 207.7) rotate(-90) scale(1.06,1)" font-size="6.75" text-anchor="end" style="stroke-width:0.15px">TPO</text><text transform="translate(228.8 207.7) rotate(-90) scale(1.06,1)" font-size="6.75" text-anchor="end" style="stroke-width:0.15px">ctrl</text><text transform="translate(234.7 207.7) rotate(-90) scale(1.06,1)" font-size="6.75" text-anchor="end" style="stroke-width:0.15px">IL6</text><text transform="translate(241.3 207.7) rotate(-90) scale(1.06,1)" font-size="6.75" text-anchor="end" style="stroke-width:0.15px">TPO</text><line x1="145.3" y1="227.5" x2="166.4" y2="227.5" stroke="#111" stroke-width="1"/><text x="156.1" y="237.4" font-size="7.1" text-anchor="middle">WT</text><line x1="169.6" y1="227.5" x2="191.4" y2="227.5" stroke="#111" stroke-width="1"/><text x="180.0" y="237.4" font-size="7.2" text-anchor="middle" font-style="italic">SclCre</text><text x="180.0" y="245.7" font-size="7.2" text-anchor="middle" font-style="italic">Stat3<tspan font-size="4.8" dy="-2.5" font-weight="bold">fl/fl</tspan></text><line x1="196" y1="227.5" x2="218.3" y2="227.5" stroke="#111" stroke-width="1"/><text x="207.1" y="237.4" font-size="7.2" text-anchor="middle" font-style="italic">SclCre</text><text x="207.1" y="245.7" font-size="7.1" text-anchor="middle" font-style="italic">V617F</text><text x="207.1" y="254" font-size="7.2" text-anchor="middle" font-style="italic">Stat3<tspan font-size="4.8" dy="-2.5" font-weight="bold">+/+</tspan></text><line x1="222.5" y1="227.5" x2="244.1" y2="227.5" stroke="#111" stroke-width="1"/><text x="233.9" y="237.4" font-size="7.2" text-anchor="middle" font-style="italic">SclCre</text><text x="233.9" y="245.7" font-size="7.1" text-anchor="middle" font-style="italic">V617F</text><text x="233.9" y="254" font-size="7.2" text-anchor="middle" font-style="italic">Stat3<tspan font-size="4.8" dy="-2.5" font-weight="bold">fl/fl</tspan></text><text transform="translate(297.0 207.7) rotate(-90) scale(1.06,1)" font-size="6.75" text-anchor="end" style="stroke-width:0.15px">ctrl</text><text transform="translate(302.9 207.7) rotate(-90) scale(1.06,1)" font-size="6.75" text-anchor="end" style="stroke-width:0.15px">IL6</text><text transform="translate(309.5 207.7) rotate(-90) scale(1.06,1)" font-size="6.75" text-anchor="end" style="stroke-width:0.15px">TPO</text><text transform="translate(321.9 207.7) rotate(-90) scale(1.06,1)" font-size="6.75" text-anchor="end" style="stroke-width:0.15px">ctrl</text><text transform="translate(327.8 207.7) rotate(-90) scale(1.06,1)" font-size="6.75" text-anchor="end" style="stroke-width:0.15px">IL6</text><text transform="translate(334.4 207.7) rotate(-90) scale(1.06,1)" font-size="6.75" text-anchor="end" style="stroke-width:0.15px">TPO</text><text transform="translate(346.8 207.7) rotate(-90) scale(1.06,1)" font-size="6.75" text-anchor="end" style="stroke-width:0.15px">ctrl</text><text transform="translate(352.7 207.7) rotate(-90) scale(1.06,1)" font-size="6.75" text-anchor="end" style="stroke-width:0.15px">IL6</text><text transform="translate(359.3 207.7) rotate(-90) scale(1.06,1)" font-size="6.75" text-anchor="end" style="stroke-width:0.15px">TPO</text><text transform="translate(371.7 207.7) rotate(-90) scale(1.06,1)" font-size="6.75" text-anchor="end" style="stroke-width:0.15px">ctrl</text><text transform="translate(377.6 207.7) rotate(-90) scale(1.06,1)" font-size="6.75" text-anchor="end" style="stroke-width:0.15px">IL6</text><text transform="translate(384.2 207.7) rotate(-90) scale(1.06,1)" font-size="6.75" text-anchor="end" style="stroke-width:0.15px">TPO</text><line x1="288.9" y1="227.5" x2="309.6" y2="227.5" stroke="#111" stroke-width="1"/><text x="301.5" y="237.4" font-size="7.1" text-anchor="middle">WT</text><line x1="314.9" y1="227.5" x2="336" y2="227.5" stroke="#111" stroke-width="1"/><text x="325.3" y="237.4" font-size="7.2" text-anchor="middle" font-style="italic">SclCre</text><text x="325.3" y="245.7" font-size="7.2" text-anchor="middle" font-style="italic">Stat3<tspan font-size="4.8" dy="-2.5" font-weight="bold">fl/fl</tspan></text><line x1="340.9" y1="227.5" x2="362.1" y2="227.5" stroke="#111" stroke-width="1"/><text x="352.5" y="237.4" font-size="7.2" text-anchor="middle" font-style="italic">SclCre</text><text x="352.5" y="245.7" font-size="7.1" text-anchor="middle" font-style="italic">V617F</text><text x="352.5" y="254" font-size="7.2" text-anchor="middle" font-style="italic">Stat3<tspan font-size="4.8" dy="-2.5" font-weight="bold">+/+</tspan></text><line x1="366.7" y1="227.5" x2="387.9" y2="227.5" stroke="#111" stroke-width="1"/><text x="379.0" y="237.4" font-size="7.2" text-anchor="middle" font-style="italic">SclCre</text><text x="379.0" y="245.7" font-size="7.1" text-anchor="middle" font-style="italic">V617F</text><text x="379.0" y="254" font-size="7.2" text-anchor="middle" font-style="italic">Stat3<tspan font-size="4.8" dy="-2.5" font-weight="bold">fl/fl</tspan></text><text transform="translate(423.0 207.7) rotate(-90) scale(1.06,1)" font-size="6.75" text-anchor="end" style="stroke-width:0.15px">ctrl</text><text transform="translate(428.9 207.7) rotate(-90) scale(1.06,1)" font-size="6.75" text-anchor="end" style="stroke-width:0.15px">IL6</text><text transform="translate(435.5 207.7) rotate(-90) scale(1.06,1)" font-size="6.75" text-anchor="end" style="stroke-width:0.15px">TPO</text><text transform="translate(447.9 207.7) rotate(-90) scale(1.06,1)" font-size="6.75" text-anchor="end" style="stroke-width:0.15px">ctrl</text><text transform="translate(453.8 207.7) rotate(-90) scale(1.06,1)" font-size="6.75" text-anchor="end" style="stroke-width:0.15px">IL6</text><text transform="translate(460.4 207.7) rotate(-90) scale(1.06,1)" font-size="6.75" text-anchor="end" style="stroke-width:0.15px">TPO</text><text transform="translate(472.8 207.7) rotate(-90) scale(1.06,1)" font-size="6.75" text-anchor="end" style="stroke-width:0.15px">ctrl</text><text transform="translate(478.7 207.7) rotate(-90) scale(1.06,1)" font-size="6.75" text-anchor="end" style="stroke-width:0.15px">IL6</text><text transform="translate(485.3 207.7) rotate(-90) scale(1.06,1)" font-size="6.75" text-anchor="end" style="stroke-width:0.15px">TPO</text><text transform="translate(497.7 207.7) rotate(-90) scale(1.06,1)" font-size="6.75" text-anchor="end" style="stroke-width:0.15px">ctrl</text><text transform="translate(503.6 207.7) rotate(-90) scale(1.06,1)" font-size="6.75" text-anchor="end" style="stroke-width:0.15px">IL6</text><text transform="translate(510.2 207.7) rotate(-90) scale(1.06,1)" font-size="6.75" text-anchor="end" style="stroke-width:0.15px">TPO</text><line x1="417.4" y1="227.5" x2="438.6" y2="227.5" stroke="#111" stroke-width="1"/><text x="429.7" y="237.4" font-size="7.1" text-anchor="middle">WT</text><line x1="442.8" y1="227.5" x2="464" y2="227.5" stroke="#111" stroke-width="1"/><text x="453.0" y="237.4" font-size="7.2" text-anchor="middle" font-style="italic">SclCre</text><text x="453.0" y="245.7" font-size="7.2" text-anchor="middle" font-style="italic">Stat3<tspan font-size="4.8" dy="-2.5" font-weight="bold">fl/fl</tspan></text><line x1="468.2" y1="227.5" x2="490.4" y2="227.5" stroke="#111" stroke-width="1"/><text x="479.6" y="237.4" font-size="7.2" text-anchor="middle" font-style="italic">SclCre</text><text x="479.6" y="245.7" font-size="7.1" text-anchor="middle" font-style="italic">V617F</text><text x="479.6" y="254" font-size="7.2" text-anchor="middle" font-style="italic">Stat3<tspan font-size="4.8" dy="-2.5" font-weight="bold">+/+</tspan></text><line x1="494.2" y1="227.5" x2="515.8" y2="227.5" stroke="#111" stroke-width="1"/><text x="507.1" y="237.4" font-size="7.2" text-anchor="middle" font-style="italic">SclCre</text><text x="507.1" y="245.7" font-size="7.1" text-anchor="middle" font-style="italic">V617F</text><text x="507.1" y="254" font-size="7.2" text-anchor="middle" font-style="italic">Stat3<tspan font-size="4.8" dy="-2.5" font-weight="bold">fl/fl</tspan></text></g></svg></body></html>
